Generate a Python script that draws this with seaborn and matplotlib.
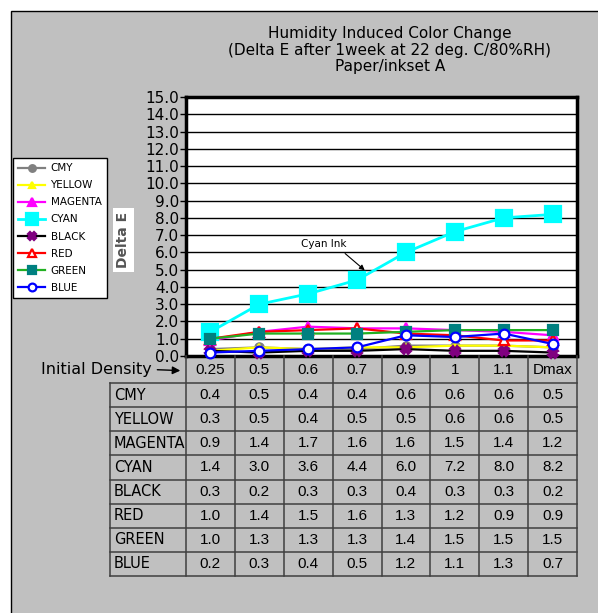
import numpy as np
import pandas as pd
import matplotlib; matplotlib.use("Agg")
import matplotlib.pyplot as plt
import matplotlib.patches as mpatches
import seaborn as sns

densities = ["0.25", "0.5", "0.6", "0.7", "0.9", "1", "1.1", "Dmax"]
inks      = ["CMY", "YELLOW", "MAGENTA", "CYAN", "BLACK", "RED", "GREEN", "BLUE"]
cmy       = [0.4, 0.5, 0.4, 0.4, 0.6, 0.6, 0.6, 0.5]
yellow    = [0.3, 0.5, 0.4, 0.5, 0.5, 0.6, 0.6, 0.5]
magenta   = [0.9, 1.4, 1.7, 1.6, 1.6, 1.5, 1.4, 1.2]
cyan      = [1.4, 3.0, 3.6, 4.4, 6.0, 7.2, 8.0, 8.2]
black     = [0.3, 0.2, 0.3, 0.3, 0.4, 0.3, 0.3, 0.2]
red       = [1.0, 1.4, 1.5, 1.6, 1.3, 1.2, 0.9, 0.9]
green     = [1.0, 1.3, 1.3, 1.3, 1.4, 1.5, 1.5, 1.5]
blue      = [0.2, 0.3, 0.4, 0.5, 1.2, 1.1, 1.3, 0.7]
series    = [cmy, yellow, magenta, cyan, black, red, green, blue]

# line colour, marker, marker face, marker edge, marker size, line width
STYLE = {
    "CMY":     ("#808080", "o", "#808080", "#808080", 6, 1.6),
    "YELLOW":  ("#ffff00", "^", "#ffff00", "#ffff00", 5, 1.6),
    "MAGENTA": ("#ff00ff", "^", "#ff00ff", "#ff00ff", 7, 1.6),
    "CYAN":    ("#00ffff", "s", "#00ffff", "#00ffff", 11, 2.0),
    "BLACK":   ("#000000", "X", "#800080", "#800080", 7, 1.6),
    "RED":     ("#ff0000", "^", "white",   "#ff0000", 7, 1.6),
    "GREEN":   ("#22b022", "s", "#008080", "#008080", 7, 1.6),
    "BLUE":    ("#0000ff", "o", "white",   "#0000ff", 7, 1.6),
}

df = pd.DataFrame([{"ink": ink, "pos": i, "density": d, "delta_e": v}
                   for ink, vals in zip(inks, series)
                   for i, (d, v) in enumerate(zip(densities, vals))])

W, H = 598, 613
fig = plt.figure(figsize=(W / 100, H / 100), dpi=100, facecolor="white")
fig.patches.append(mpatches.Rectangle((11 / W, -0.1), 1.2, 1.1 - 11 / H,
                                      transform=fig.transFigure, facecolor="#c0c0c0",
                                      edgecolor="black", lw=1, zorder=-10))

# ── Chart ─────────────────────────────────────────────────────────────────
ax = fig.add_axes([186 / W, 1 - 356 / H, (577 - 186) / W, (356 - 97) / H])
ax.set_facecolor("white")
for ink in inks:
    lc, mk, mfc, mec, ms, lw = STYLE[ink]
    sns.lineplot(data=df[df.ink == ink], x="pos", y="delta_e", ax=ax, color=lc, lw=lw,
                 marker=mk, markerfacecolor=mfc, markeredgecolor=mec, markersize=ms,
                 markeredgewidth=1.6, label=ink, clip_on=False, zorder=3)

ax.set_xlim(-0.5, len(densities) - 0.5)
ax.set_ylim(0, 15)
ax.set_yticks(np.arange(0, 16, 1))
ax.set_yticklabels([f"{v:.1f}" for v in range(16)], fontsize=11)
ax.set_xticks([])
ax.set_xlabel("")
ax.grid(axis="y", color="black", lw=1)
ax.set_axisbelow(True)
ax.tick_params(axis="y", length=4, width=1, pad=1)
for sp in ax.spines.values():
    sp.set_linewidth(2.5)
    sp.set_color("black")

ax.set_ylabel("Delta E", fontsize=10, fontweight="bold", color="#555555",
              bbox=dict(facecolor="white", edgecolor="none", pad=2.5))
ax.yaxis.set_label_coords(-0.143, 0.448)

ax.annotate("Cyan Ink", xy=(3.2, 4.86), xytext=(2.32, 6.49), fontsize=7.5,
            ha="center", va="center",
            arrowprops=dict(arrowstyle="-|>", color="black", lw=0.8, relpos=(0.85, 0)))

fig.text(390 / W, 1 - 50 / H,
         "Humidity Induced Color Change\n(Delta E after 1week at 22 deg. C/80%RH)\nPaper/inkset A",
         ha="center", va="center", fontsize=11, linespacing=1.15)

# legend
handles, labels = ax.get_legend_handles_labels()
ax.legend_.remove()
fig.legend(handles, labels, loc="upper left", bbox_to_anchor=(13 / W, 1 - 158 / H),
           borderaxespad=0, fancybox=False, edgecolor="black", framealpha=1,
           fontsize=7.5, handlelength=2.6, labelspacing=0.68, borderpad=0.5,
           handletextpad=0.5, markerscale=0.8)

# ── Data table under the chart ────────────────────────────────────────────
col_w = (577 - 186) / len(densities)
lab_w = (186 - 110) / col_w
head_h = 27 / 24.1
n_rows = len(inks)
tax = fig.add_axes([110 / W, 1 - 576 / H, (577 - 110) / W, (576 - 356) / H])
tax.set_xlim(-lab_w, len(densities))
tax.set_ylim(head_h + n_rows, 0)
tax.axis("off")
gc = "#404040"
for c in range(len(densities) + 1):
    tax.plot([c, c], [0, head_h + n_rows], color=gc, lw=1.1, clip_on=False)
tax.plot([-lab_w, -lab_w], [head_h, head_h + n_rows], color=gc, lw=1.1, clip_on=False)
for r in range(n_rows + 1):
    tax.plot([-lab_w, len(densities)], [head_h + r, head_h + r], color=gc, lw=1.1, clip_on=False)
for c, d in enumerate(densities):
    tax.text(c + 0.5, head_h / 2, d, ha="center", va="center", fontsize=11,
             family="Liberation Sans")
for r, (ink, vals) in enumerate(zip(inks, series)):
    y = head_h + r + 0.5
    tax.text(-lab_w + 0.08, y, ink, ha="left", va="center", fontsize=10.5,
             family="Liberation Sans Narrow")
    for c, v in enumerate(vals):
        tax.text(c + 0.5, y, f"{v:.1f}", ha="center", va="center", fontsize=11,
                 family="Liberation Sans")

tax.annotate("Initial Density", xy=(-0.06, head_h / 2 + 0.05), xytext=(-0.7, head_h / 2),
             ha="right", va="center", fontsize=11.5, annotation_clip=False,
             arrowprops=dict(arrowstyle="-|>", color="black", lw=1, relpos=(1, 0.5)))

plt.savefig("out.png", dpi=100)
plt.close()
